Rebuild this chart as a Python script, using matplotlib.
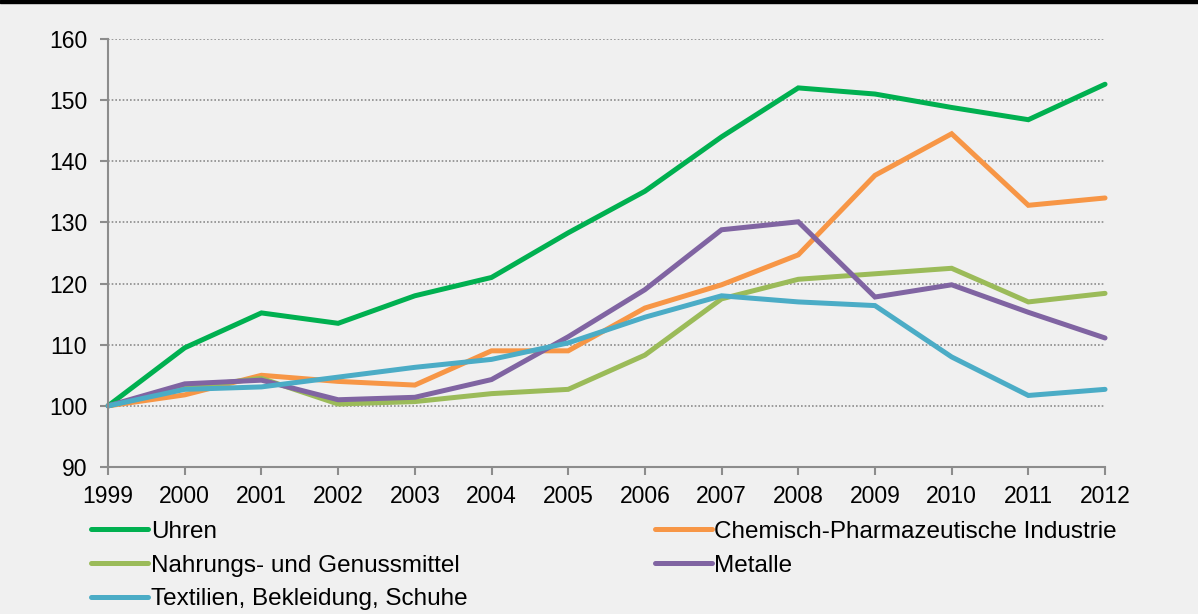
import matplotlib.pyplot as plt
from matplotlib.patches import Rectangle

plt.rcParams['font.family'] = ['Liberation Sans', 'DejaVu Sans']

jahre = list(range(1999, 2013))

uhren = [100, 109.5, 115.2, 113.5, 118, 121, 128.3, 135.1, 144, 152, 151, 148.8, 146.8, 152.6]
chemie = [100, 101.8, 105, 104, 103.4, 109, 109, 116, 119.8, 124.7, 137.7, 144.5, 132.8, 134]
nahrung = [100, 103, 104.5, 100.3, 100.7, 102, 102.7, 108.3, 117.5, 120.7, 121.6, 122.5, 117, 118.4]
metalle = [100, 103.6, 104.2, 101, 101.4, 104.3, 111.3, 119, 128.8, 130.1, 117.8, 119.8, 115.3, 111.1]
textil = [100, 102.7, 103.1, 104.7, 106.3, 107.6, 110.3, 114.5, 118, 117, 116.4, 108, 101.7, 102.7]

bg = '#f0f0f0'
fig = plt.figure(figsize=(11.98, 6.14), dpi=100, facecolor=bg)
ax = fig.add_axes([0.0902, 0.2394, 0.8322, 0.6971], facecolor=bg)

# schwarzer Balken oben
fig.patches.append(Rectangle((0, 0.995), 1, 0.005, transform=fig.transFigure,
                             color='black', zorder=5))

lw = 3.6
stil = dict(lw=lw, solid_capstyle='round', solid_joinstyle='miter', clip_on=False)
l_uhren, = ax.plot(jahre, uhren, color='#00b050', **stil)
l_chemie, = ax.plot(jahre, chemie, color='#f79646', **stil)
l_nahrung, = ax.plot(jahre, nahrung, color='#9bbb59', **stil)
l_metalle, = ax.plot(jahre, metalle, color='#8064a2', **stil)
l_textil, = ax.plot(jahre, textil, color='#4bacc6', **stil)

ax.set_xlim(1999, 2012)
ax.set_ylim(90, 160)
ax.set_xticks(jahre)
ax.set_yticks(range(90, 161, 10))

for y in range(100, 161, 10):
    ax.axhline(y, color='#8c8c8c', lw=1.2, ls=(0, (1, 1.2)), zorder=0)

for s in ['top', 'right']:
    ax.spines[s].set_visible(False)
for s in ['left', 'bottom']:
    ax.spines[s].set_color('#8c8c8c')
    ax.spines[s].set_linewidth(1.5)
ax.tick_params(axis='both', colors='#8c8c8c', length=6, width=1.5, labelcolor='black', labelsize=16.5)
ax.tick_params(axis='x', pad=7)
ax.tick_params(axis='y', pad=9)

handles = [l_uhren, l_nahrung, l_textil, l_chemie, l_metalle]
labels = ['Uhren', 'Nahrungs- und Genussmittel', 'Textilien, Bekleidung, Schuhe',
          'Chemisch-Pharmazeutische Industrie', 'Metalle']
fig.legend(handles, labels, ncol=2, loc='upper left', bbox_to_anchor=(0.068, 0.168),
           frameon=False, fontsize=17.5, handlelength=2.35, handletextpad=0.1,
           columnspacing=7.7, labelspacing=0.49, borderaxespad=0)

fig.savefig('out.png', dpi=100, facecolor=bg)
